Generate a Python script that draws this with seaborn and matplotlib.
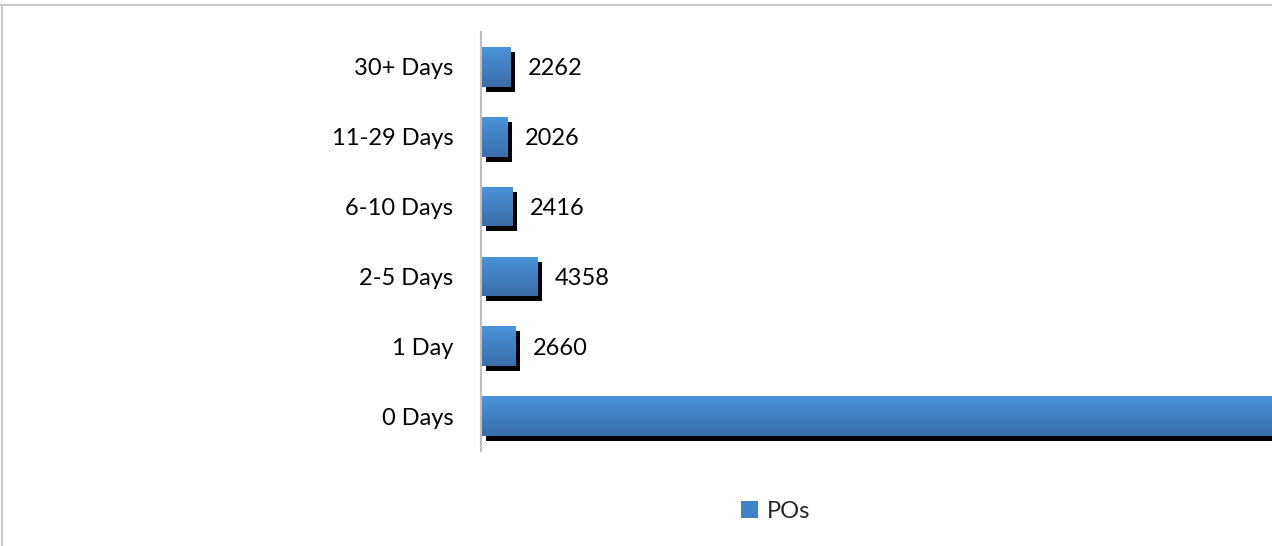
import numpy as np
import pandas as pd
import seaborn as sns
import matplotlib.pyplot as plt
import matplotlib.patheffects as pe
from matplotlib.patches import Patch
from matplotlib.lines import Line2D
from matplotlib.colors import LinearSegmentedColormap

# data (top to bottom as shown)
categories = ["30+ Days", "11-29 Days", "6-10 Days", "2-5 Days", "1 Day", "0 Days"]
pos_counts = [2262, 2026, 2416, 4358, 2660, 66000]  # 0 Days runs off the picture
series_name = "POs"

df = pd.DataFrame({"bucket": categories, "count": pos_counts})

sns.set_theme(style="white")
plt.rcParams["font.family"] = ["Lato", "DejaVu Sans"]

fig = plt.figure(figsize=(12.72, 5.46), dpi=100)
ax = fig.add_axes([481 / 1272, 1 - 451 / 546, 1 - 481 / 1272, 419 / 546])

top_col = "#4a93d9"
bot_col = "#3a6ea8"
mid_col = "#4281c4"

sns.barplot(data=df, x="count", y="bucket", order=categories, orient="h",
            color=mid_col, width=0.57, saturation=1, ax=ax)

xmax = 61550
ylim = ax.get_ylim()

# black drop shadow + vertical gradient on every bar
cmap = LinearSegmentedColormap.from_list("grad", [top_col, bot_col])
grad = np.linspace(0, 1, 64).reshape(-1, 1)
for p in ax.patches:
    p.set_edgecolor("none")
    p.set_path_effects([pe.SimplePatchShadow(offset=(3.6, -3.6), shadow_rgbFace="black", alpha=1.0),
                        pe.Normal()])
    x0, y0 = p.get_x(), p.get_y()
    w, h = p.get_width(), p.get_height()
    im = ax.imshow(grad, cmap=cmap, aspect="auto", origin="upper",
                   extent=[x0, x0 + w, y0 + h, y0], zorder=p.get_zorder() + 0.1)
    im.set_clip_path(p)

# value labels
for i, v in enumerate(pos_counts):
    ax.annotate(str(v), xy=(v, i), xytext=(13, 0), textcoords="offset points",
                ha="left", va="center_baseline", fontsize=17, color="black")

ax.set_xlim(0, xmax)
ax.set_ylim(ylim)
ax.set_xlabel("")
ax.set_ylabel("")
ax.set_xticks([])
ax.tick_params(axis="y", length=0, pad=20, labelsize=17, labelcolor="black")
for lbl in ax.get_yticklabels():
    lbl.set_verticalalignment("center_baseline")
for side in ["top", "right", "bottom"]:
    ax.spines[side].set_visible(False)
ax.spines["left"].set_color("#bfbfbf")
ax.spines["left"].set_linewidth(1.5)

# legend below
fig.legend(handles=[Patch(facecolor=mid_col, edgecolor="none", label=series_name)],
           loc="center", bbox_to_anchor=(776 / 1272, 35 / 546), frameon=False,
           fontsize=17, handlelength=0.7, handleheight=0.7, handletextpad=0.4)

# outer chart border (top and left visible in the crop)
fig.add_artist(Line2D([0, 1], [1 - 5 / 546, 1 - 5 / 546], transform=fig.transFigure,
                      color="#c8c8c8", lw=1.5))
fig.add_artist(Line2D([1.5 / 1272, 1.5 / 1272], [0, 1 - 5 / 546], transform=fig.transFigure,
                      color="#c8c8c8", lw=1.5))

fig.savefig("out.png", dpi=100)
